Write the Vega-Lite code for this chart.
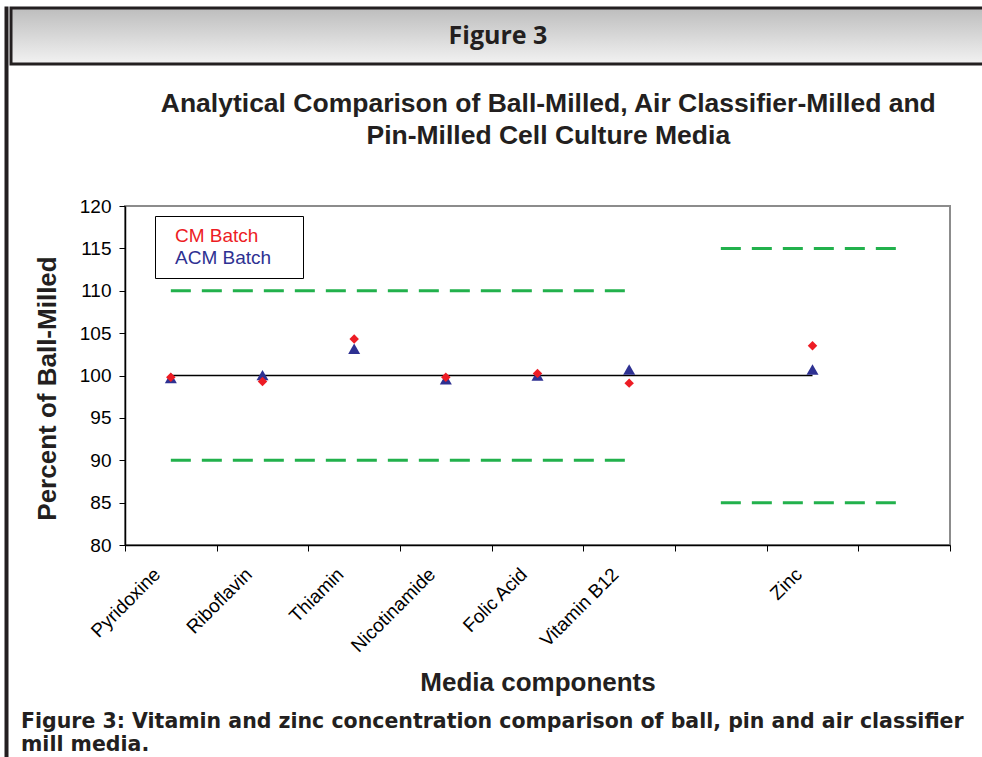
{
  "$schema": "https://vega.github.io/schema/vega-lite/v6.json",
  "background": "white",
  "padding": {"left": 2, "top": 6, "right": 0, "bottom": 0},
  "config": {
    "font": "Liberation Sans",
    "axis": {"labelColor": "#000000", "titleColor": "#231f20", "tickColor": "#000000", "domainColor": "#000000", "grid": false}
  },
  "datasets": {
    "acm": [
      {"component": "Pyridoxine", "batch": "ACM Batch", "value": 99.7},
      {"component": "Riboflavin", "batch": "ACM Batch", "value": 100.05},
      {"component": "Thiamin", "batch": "ACM Batch", "value": 103.15},
      {"component": "Nicotinamide", "batch": "ACM Batch", "value": 99.55},
      {"component": "Folic Acid", "batch": "ACM Batch", "value": 100.0},
      {"component": "Vitamin B12", "batch": "ACM Batch", "value": 100.7},
      {"component": "Zinc", "batch": "ACM Batch", "value": 100.7}
    ],
    "cm": [
      {"component": "Pyridoxine", "batch": "CM Batch", "value": 99.8},
      {"component": "Riboflavin", "batch": "CM Batch", "value": 99.3},
      {"component": "Thiamin", "batch": "CM Batch", "value": 104.3},
      {"component": "Nicotinamide", "batch": "CM Batch", "value": 99.8},
      {"component": "Folic Acid", "batch": "CM Batch", "value": 100.25},
      {"component": "Vitamin B12", "batch": "CM Batch", "value": 99.1},
      {"component": "Zinc", "batch": "CM Batch", "value": 103.5}
    ],
    "limits": [
      {"component": "Pyridoxine", "end": "Vitamin B12", "value": 110},
      {"component": "Pyridoxine", "end": "Vitamin B12", "value": 90},
      {"component": " ", "end": "  ", "value": 115},
      {"component": " ", "end": "  ", "value": 85}
    ],
    "baseline": [
      {"component": "Pyridoxine", "end": "Zinc", "value": 100}
    ],
    "header": [{"t": "Figure 3"}],
    "blank": [{"t": ""}]
  },
  "spacing": -7,
  "hconcat": [
    {
      "width": 1,
      "height": 760,
      "data": {"name": "blank"},
      "mark": {"type": "point", "opacity": 0},
      "encoding": {},
      "view": {"stroke": "#231f20", "strokeWidth": 3}
    },
    {
      "spacing": 24,
      "vconcat": [
        {
          "width": 985,
          "height": 56,
          "data": {"name": "header"},
          "mark": {"type": "text", "font": "Open Sans", "fontSize": 25, "fontWeight": "bold", "color": "#231f20", "dx": -5.5},
          "encoding": {"text": {"field": "t", "type": "nominal"}},
          "view": {
            "fill": {"gradient": "linear", "x1": 0, "y1": 0, "x2": 0, "y2": 1, "stops": [{"offset": 0, "color": "#bdbdbd"}, {"offset": 1, "color": "#f2f2f2"}]},
            "stroke": "#231f20",
            "strokeWidth": 3
          }
        },
        {
          "spacing": 5,
          "hconcat": [
            {
              "width": 1,
              "height": 1,
              "data": {"name": "blank"},
              "mark": {"type": "point", "opacity": 0},
              "encoding": {},
              "view": {"stroke": null}
            },
            {
              "title": {
                "text": ["Analytical Comparison of Ball-Milled, Air Classifier-Milled and", "Pin-Milled Cell Culture Media"],
                "font": "Liberation Sans",
                "fontSize": 26.5,
                "fontWeight": "bold",
                "lineHeight": 32,
                "anchor": "middle",
                "dx": 56,
                "offset": 47,
                "color": "#231f20"
              },
              "vconcat": [
                {
                  "width": 825,
                  "height": 339,
                  "view": {"stroke": "#8c8c8c", "strokeWidth": 2},
                  "title": {
                    "text": ["Figure 3: Vitamin and zinc concentration comparison of ball, pin and air classifier", "mill media."],
                    "orient": "bottom",
                    "anchor": "start",
                    "frame": "group",
                    "dx": -104,
                    "offset": 16,
                    "font": "DejaVu Sans",
                    "fontSize": 20.5,
                    "fontWeight": "bold",
                    "lineHeight": 23,
                    "color": "#231f20"
                  },
                  "encoding": {
                    "x": {
                      "field": "component",
                      "type": "nominal",
                      "sort": null,
                      "scale": {"type": "band", "domain": ["Pyridoxine", "Riboflavin", "Thiamin", "Nicotinamide", "Folic Acid", "Vitamin B12", " ", "Zinc", "  "], "paddingInner": 0, "paddingOuter": 0},
                      "axis": {
                        "title": "Media components",
                        "titleFontSize": 26,
                        "titleFontWeight": "bold",
                        "titlePadding": 14,
                        "labelAngle": -45,
                        "labelAlign": "right",
                        "labelBaseline": "bottom",
                        "labelFontSize": 19,
                        "labelPadding": 27,
                        "labelOffset": -7,
                        "tickBand": "extent",
                        "tickSize": 6,
                        "domainWidth": 1.5
                      }
                    },
                    "y": {
                      "field": "value",
                      "type": "quantitative",
                      "scale": {"domain": [80, 120], "nice": false, "zero": false},
                      "axis": {
                        "title": "Percent of Ball-Milled",
                        "values": [80, 85, 90, 95, 100, 105, 110, 115, 120],
                        "titleFontSize": 26,
                        "titleFontWeight": "bold",
                        "titlePadding": 19,
                        "titleY": 182,
                        "labelFontSize": 19,
                        "labelPadding": 8,
                        "tickSize": 6,
                        "domainWidth": 1.5
                      }
                    }
                  },
                  "layer": [
                    {
                      "data": {"name": "limits"},
                      "mark": {"type": "rule", "color": "#22b14c", "strokeWidth": 3, "strokeDash": [20, 11]},
                      "encoding": {"x2": {"field": "end"}}
                    },
                    {
                      "data": {"name": "baseline"},
                      "mark": {"type": "rule", "color": "#000000", "strokeWidth": 1.5},
                      "encoding": {"x2": {"field": "end"}}
                    },
                    {
                      "data": {"name": "acm"},
                      "mark": {"type": "point", "shape": "triangle-up", "size": 144, "filled": true, "opacity": 1, "strokeWidth": 0},
                      "encoding": {
                        "color": {
                          "field": "batch",
                          "type": "nominal",
                          "scale": {"domain": ["CM Batch", "ACM Batch"], "range": ["#ed1c24", "#2e3192"]},
                          "legend": {
                            "orient": "none",
                            "legendX": 149,
                            "legendY": 208,
                            "title": "\u00a0",
                            "titleOrient": "right",
                            "titlePadding": 22,
                            "titleFontSize": 19,
                            "symbolOpacity": 0,
                            "symbolSize": 0,
                            "symbolStrokeWidth": 0,
                            "labelFont": "Liberation Sans",
                            "labelFontSize": 19,
                            "padding": 10,
                            "labelOffset": -9,
                            "rowPadding": 2,
                            "strokeColor": "#000000",
                            "fillColor": "white",
                            "encode": {"labels": {"update": {"fill": [{"test": "datum.value === 'CM Batch'", "value": "#ed1c24"}, {"value": "#2e3192"}]}}}
                          }
                        }
                      }
                    },
                    {
                      "data": {"name": "cm"},
                      "mark": {"type": "point", "shape": "diamond", "size": 90, "filled": true, "opacity": 1, "strokeWidth": 0},
                      "encoding": {
                        "color": {"field": "batch", "type": "nominal", "scale": {"domain": ["CM Batch", "ACM Batch"], "range": ["#ed1c24", "#2e3192"]}}
                      }
                    }
                  ]
                }
              ]
            }
          ]
        }
      ]
    }
  ]
}
